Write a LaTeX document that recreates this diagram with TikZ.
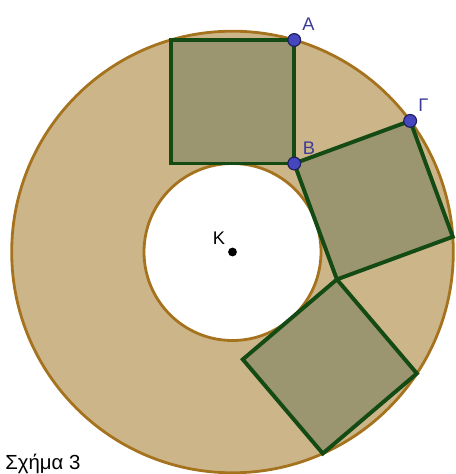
\documentclass[tikz,border=0pt]{standalone}
\usepackage{fontspec}
\setmainfont{Liberation Sans}
\usetikzlibrary{calc}
\definecolor{ringfill}{RGB}{205,181,138}
\definecolor{ringline}{RGB}{165,115,30}
\definecolor{sqfill}{RGB}{155,150,112}
\definecolor{sqline}{RGB}{20,75,20}
\definecolor{ptfill}{RGB}{70,70,190}
\definecolor{ptline}{RGB}{30,30,90}
\definecolor{lblcol}{RGB}{60,60,150}
\begin{document}
\begin{tikzpicture}[x=0.025cm,y=0.025cm,
    sq/.style={draw=sqline, fill=sqfill, line width=2.8pt, line join=miter},
    pt/.style={circle, fill=ptfill, draw=ptline, line width=0.8pt, inner sep=0pt, minimum size=0.32cm},
    lbl/.style={text=lblcol, font=\fontsize{13}{15}\selectfont, label distance=-1pt}]
    \useasboundingbox (0,0) rectangle (455,474);
    \pgfmathsetmacro{\rin}{88.5}
    \pgfmathsetmacro{\side}{123.5}
    \pgfmathsetmacro{\rout}{10*sqrt((\side/20)^2+((\rin+\side)/10)^2)}
    \pgfmathsetmacro{\turn}{2*atan(\side/(2*\rin))}

    %ring around K
        \coordinate (K) at (232.5,222);
        \fill[ringfill, even odd rule] (K) circle (\rout) (K) circle (\rin);
        \draw[ringline, line width=2pt] (K) circle (\rout) (K) circle (\rin);

    %three squares, each turned about K
        \foreach \k in {0,1,2}{
            \begin{scope}[shift={(K)}, rotate=-\k*\turn]
                \draw[sq] (-\side/2,\rin) coordinate (p\k1) -- (\side/2,\rin) coordinate (p\k2)
                    -- (\side/2,\rin+\side) coordinate (p\k3) -- (-\side/2,\rin+\side) coordinate (p\k4) -- cycle;
            \end{scope}
        }

    %marked points
        \node[pt, label={[lbl]55:A}] (A) at (p03) {};
        \node[pt, label={[lbl]50:B}] (B) at (p02) {};
        \node[pt, label={[lbl]55:Γ}] (G) at (p14) {};
        \node[circle, fill=black, inner sep=0pt, minimum size=0.22cm,
              label={[font=\fontsize{13}{15}\selectfont, label distance=-1pt]140:K}] (Kdot) at (K) {};

    \node[anchor=base west, font=\fontsize{14.5}{17}\selectfont, inner sep=0pt] (cap) at (5,4) {Σχήμα 3};
\end{tikzpicture}
\end{document}
